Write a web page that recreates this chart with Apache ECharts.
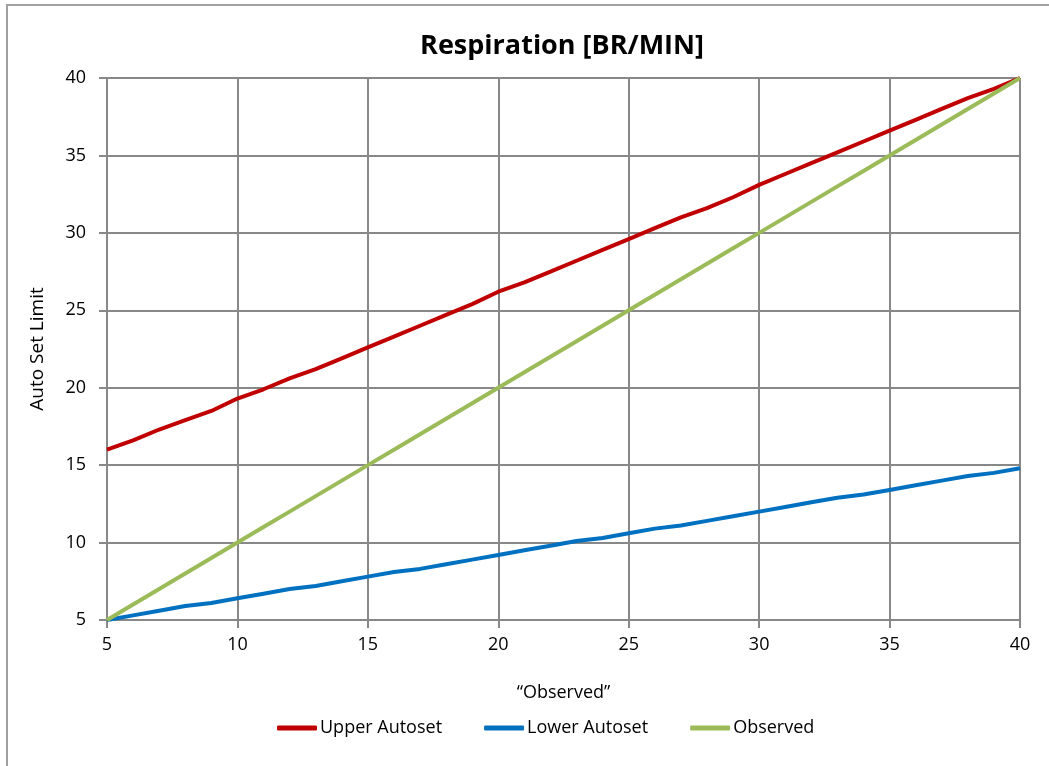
<!DOCTYPE html>
<html><head><meta charset="utf-8">
<script src="https://cdn.jsdelivr.net/npm/echarts@6/dist/echarts.min.js"></script>
<style>html,body{margin:0;padding:0;background:#fff}#c{width:1049px;height:766px}</style>
</head><body><div id="c"></div>
<script>
const xValues = [5,6,7,8,9,10,11,12,13,14,15,16,17,18,19,20,21,22,23,24,25,26,27,28,29,30,31,32,33,34,35,36,37,38,39,40];
const upperAutoset = [16.0,16.6,17.3,17.9,18.5,19.3,19.9,20.6,21.2,21.9,22.6,23.3,24.0,24.7,25.4,26.2,26.8,27.5,28.2,28.9,29.6,30.3,31.0,31.6,32.3,33.1,33.8,34.5,35.2,35.9,36.6,37.3,38.0,38.7,39.3,40.0];
const lowerAutoset = [5.0,5.3,5.6,5.9,6.1,6.4,6.7,7.0,7.2,7.5,7.8,8.1,8.3,8.6,8.9,9.2,9.5,9.8,10.1,10.3,10.6,10.9,11.1,11.4,11.7,12.0,12.3,12.6,12.9,13.1,13.4,13.7,14.0,14.3,14.5,14.8];
const observed = [5,6,7,8,9,10,11,12,13,14,15,16,17,18,19,20,21,22,23,24,25,26,27,28,29,30,31,32,33,34,35,36,37,38,39,40];
const seriesNames = ['Upper Autoset','Lower Autoset','Observed'];
const colors = ['#C00000','#0070C0','#9BBB59'];
const titleText = 'Respiration [BR/MIN]';

const FONT = 'Open Sans';
const pair = arr => xValues.map((x,i)=>[x,arr[i]]);
const mk = (name, arr, color) => ({
  name, type:'line', data: pair(arr), showSymbol:false, symbol:'none',
  lineStyle:{color, width:4}, itemStyle:{color}, smooth:false, z:3
});
const gridLine = {show:true, lineStyle:{color:'#888888', width:2}};
const axisLine = {show:true, lineStyle:{color:'#888888', width:2}};
const axisTick = {show:true, length:8, lineStyle:{color:'#888888', width:2}};
const chart = echarts.init(document.getElementById('c'));
chart.setOption({
  animation:false,
  backgroundColor:'#fff',
  graphic:[
    {type:'rect', shape:{x:7,y:5,width:1100,height:800}, style:{fill:'none', stroke:'#a0a0a0', lineWidth:2}, silent:true},
    {type:'text', x:562, y:46, style:{text:titleText, fontFamily:FONT, fontSize:27, fontWeight:'bold', fill:'#000', align:'center', verticalAlign:'middle'}, silent:true}
  ],
  grid:{left:107, right:29, top:78, bottom:146, containLabel:false},
  legend:{bottom:24, left:272, itemWidth:40, itemHeight:5, itemGap:42,
    icon:'roundRect',
    textStyle:{fontFamily:FONT, fontSize:18, color:'#000', padding:[0,0,0,-2]},
    data:seriesNames},
  xAxis:{type:'value', min:5, max:40, interval:5,
    name:'“Observed”', nameLocation:'middle', nameGap:64,
    nameTextStyle:{fontFamily:FONT, fontSize:18, color:'#000'},
    axisLine, axisTick, splitLine:gridLine,
    axisLabel:{fontFamily:FONT, fontSize:18, color:'#000', margin:16}},
  yAxis:{type:'value', min:5, max:40, interval:5,
    name:'Auto Set Limit', nameLocation:'middle', nameGap:60, nameRotate:90,
    nameTextStyle:{fontFamily:FONT, fontSize:19, color:'#000'},
    axisLine, axisTick, splitLine:gridLine,
    axisLabel:{fontFamily:FONT, fontSize:18, color:'#000', margin:21}},
  series:[mk(seriesNames[0], upperAutoset, colors[0]), mk(seriesNames[1], lowerAutoset, colors[1]), mk(seriesNames[2], observed, colors[2])]
});
</script></body></html>
